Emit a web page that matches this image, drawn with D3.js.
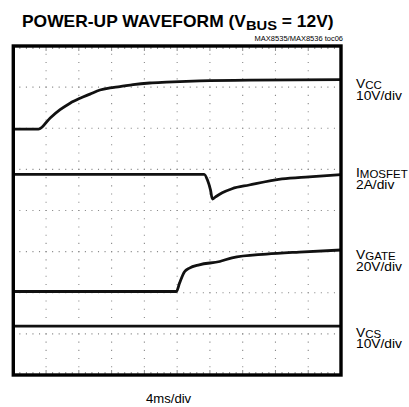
<!DOCTYPE html>
<html>
<head>
<meta charset="utf-8">
<script src="https://cdn.jsdelivr.net/npm/d3@7"></script>
<style>
  body { margin: 0; background: #fff; }
  svg { display: block; font-family: "Liberation Sans", Arial, Helvetica, sans-serif; }
</style>
</head>
<body>
<div id="chart"></div>
<script>
// traces, [time ms, screen divisions from bottom]
var vccTrace = [[0, 5.98], [3.08, 5.98], [4.5, 6.25], [5.71, 6.45], [6.93, 6.61], [8.15, 6.73],
  [9.36, 6.83], [10.58, 6.93], [11.79, 6.98], [13.01, 7.01], [14.63, 7.06], [16.66, 7.1],
  [18.69, 7.12], [22.74, 7.15], [28.8, 7.17], [40, 7.18]];
var imosfetTrace = [[0, 4.88], [23.3, 4.88], [23.7, 4.74], [24.07, 4.5], [24.3, 4.28], [24.68, 4.33],
  [25.5, 4.43], [26.7, 4.53], [28.8, 4.62], [32.8, 4.77], [36.1, 4.82], [40, 4.87]];
var vgateTrace = [[0, 2.03], [19.9, 2.03], [20.3, 2.24], [20.9, 2.51], [21.5, 2.6], [22.7, 2.68],
  [25.2, 2.76], [26.7, 2.85], [30.9, 2.94], [34.9, 2.99], [40, 3.04]];
var vcsTrace = [[0, 1.19], [40, 1.19]];

var channelNames = ["V", "I", "V", "V"];
var channelSubs = ["CC", "MOSFET", "GATE", "CS"];
var channelScales = ["10V/div", "2A/div", "20V/div", "10V/div"];
var timeScale = "4ms/div";
var xDivs = 10, yDivs = 8, minorPerDiv = 5;

var W = 409, H = 407;
var svg = d3.select("#chart").append("svg").attr("width", W).attr("height", H);

var x = d3.scaleLinear().domain([0, 40]).range([13.3, 341]);
var y = d3.scaleLinear().domain([0, yDivs]).range([375, 46]);
var dx = (x(40) - x(0)) / xDivs / minorPerDiv;
var dy = (y(0) - y(yDivs)) / yDivs / minorPerDiv;

var grid = svg.append("g").attr("stroke", "#8a8a8a");
// dotted vertical division lines
grid.selectAll(".vg").data(d3.range(1, xDivs)).enter().append("line")
  .attr("x1", function(d) { return x(d * 4); }).attr("x2", function(d) { return x(d * 4); })
  .attr("y1", y(yDivs)).attr("y2", y(0))
  .attr("stroke-width", 1.1)
  .attr("stroke-dasharray", "1.1," + (dy - 1.1))
  .attr("stroke-dashoffset", 0.55);
// dotted horizontal division lines
grid.selectAll(".hg").data(d3.range(1, yDivs)).enter().append("line")
  .attr("x1", x(0)).attr("x2", x(40))
  .attr("y1", function(d) { return y(d); }).attr("y2", function(d) { return y(d); })
  .attr("stroke-width", 1.1)
  .attr("stroke-dasharray", "1.1," + (dx - 1.1))
  .attr("stroke-dashoffset", 0.55);
// small ticks along top and bottom edge
var minorX = d3.range(1, xDivs * minorPerDiv);
grid.selectAll(".tt").data(minorX).enter().append("line")
  .attr("x1", function(d) { return x(d * 4 / minorPerDiv); })
  .attr("x2", function(d) { return x(d * 4 / minorPerDiv); })
  .attr("y1", y(yDivs) + 1).attr("y2", function(d) { return y(yDivs) + (d % minorPerDiv ? 3 : 5); })
  .attr("stroke-width", 1);
grid.selectAll(".bt").data(minorX).enter().append("line")
  .attr("x1", function(d) { return x(d * 4 / minorPerDiv); })
  .attr("x2", function(d) { return x(d * 4 / minorPerDiv); })
  .attr("y1", y(0) - 1).attr("y2", function(d) { return y(0) - (d % minorPerDiv ? 3 : 5); })
  .attr("stroke-width", 1);

// traces
var line = d3.line()
  .x(function(d) { return x(d[0]); })
  .y(function(d) { return y(d[1]); })
  .curve(d3.curveMonotoneX);
svg.append("g").selectAll("path")
  .data([vccTrace, imosfetTrace, vgateTrace, vcsTrace]).enter().append("path")
  .attr("d", line)
  .attr("fill", "none")
  .attr("stroke", "#111")
  .attr("stroke-width", 2.8)
  .attr("stroke-linejoin", "round");

// frame
svg.append("rect")
  .attr("x", x(0)).attr("y", y(yDivs))
  .attr("width", x(40) - x(0)).attr("height", y(0) - y(yDivs))
  .attr("fill", "none").attr("stroke", "#000").attr("stroke-width", 3.4);

// title (the original lettering runs a little wide)
var title = svg.append("text")
  .attr("transform", "translate(22,27) scale(1.09,1)")
  .attr("font-size", 16).attr("font-weight", "bold").attr("fill", "#000");
title.append("tspan").text("POWER-UP WAVEFORM (V");
title.append("tspan").attr("font-size", 13.5).attr("dy", 3).text("BUS");
title.append("tspan").attr("dy", -3).text(" = 12V)");

svg.append("text").attr("x", 343).attr("y", 40.5)
  .attr("text-anchor", "end").attr("font-size", 7.5).attr("fill", "#000")
  .text("MAX8535/MAX8536 toc06");

// channel labels
var labelY = [88.3, 177.3, 259.3, 336.7];
channelNames.forEach(function(n, i) {
  var t = svg.append("text")
    .attr("transform", "translate(356," + labelY[i] + ") scale(1.15,1)")
    .attr("font-size", 12).attr("fill", "#000");
  t.append("tspan").text(n);
  t.append("tspan").attr("font-size", 10).attr("dy", 1).text(channelSubs[i]);
  t.append("tspan").attr("x", 0).attr("y", 11.7).text(channelScales[i]);
});

svg.append("text")
  .attr("transform", "translate(146,403) scale(1.05,1)")
  .attr("font-size", 12.5).attr("fill", "#000").text(timeScale);
</script>
</body>
</html>
